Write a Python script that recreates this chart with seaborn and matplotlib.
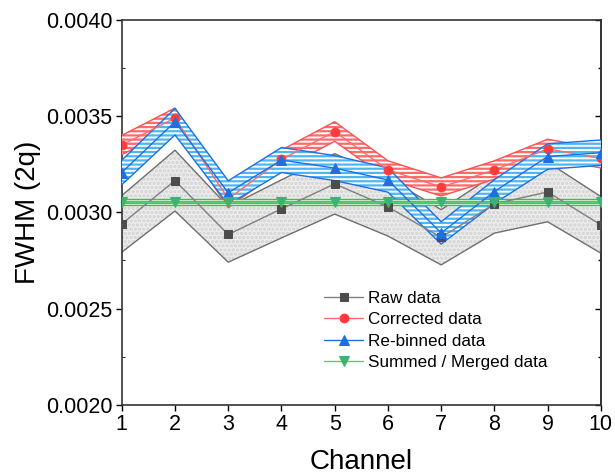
import matplotlib
matplotlib.use("Agg")
import matplotlib.pyplot as plt
import seaborn as sns
import pandas as pd

channels = [1, 2, 3, 4, 5, 6, 7, 8, 9, 10]

raw = [0.00294, 0.003165, 0.002885, 0.003018, 0.003148, 0.003028, 0.00287, 0.003044, 0.003106, 0.002935]
raw_hi = [0.003087, 0.003323, 0.003029, 0.003169, 0.003305, 0.003179, 0.003014, 0.003196, 0.003261, 0.003082]
raw_lo = [0.002793, 0.003007, 0.002741, 0.002867, 0.002991, 0.002877, 0.002727, 0.002892, 0.002951, 0.002788]

corrected = [0.00335, 0.00349, 0.00307, 0.003275, 0.00342, 0.00322, 0.003132, 0.00322, 0.00333, 0.00328]
corrected_hi = [0.0034, 0.003542, 0.003116, 0.003324, 0.003471, 0.003268, 0.003179, 0.003268, 0.00338, 0.003329]
corrected_lo = [0.0033, 0.003438, 0.003024, 0.003226, 0.003369, 0.003172, 0.003085, 0.003172, 0.00328, 0.003231]

rebinned = [0.003207, 0.003471, 0.003102, 0.003272, 0.00323, 0.003168, 0.002893, 0.003108, 0.00329, 0.00331]
rebinned_hi = [0.003271, 0.00354, 0.003164, 0.003337, 0.003295, 0.003231, 0.002951, 0.00317, 0.003356, 0.003376]
rebinned_lo = [0.003143, 0.003402, 0.00304, 0.003207, 0.003165, 0.003105, 0.002835, 0.003046, 0.003224, 0.003244]

merged = [0.003055] * 10
merged_hi = [0.00307] * 10
merged_lo = [0.00304] * 10

sns.set_style("ticks")
plt.rcParams["font.family"] = ["Liberation Sans", "DejaVu Sans"]
plt.rcParams["hatch.linewidth"] = 1.6
plt.rcParams["text.color"] = "black"
plt.rcParams["axes.labelcolor"] = "black"
plt.rcParams["xtick.color"] = "black"
plt.rcParams["ytick.color"] = "black"

fig = plt.figure(figsize=(6.15, 4.74), dpi=100)
ax = fig.add_axes([0.198, 0.146, 0.779, 0.812])

# raw band: grey with dotted pattern
ax.fill_between(channels, raw_lo, raw_hi, facecolor="#ececec", edgecolor="#d2d2d2",
                hatch="....", linewidth=0, zorder=1)
ax.plot(channels, raw_hi, color="#6e6e6e", lw=1, zorder=2)
ax.plot(channels, raw_lo, color="#6e6e6e", lw=1, zorder=2)

# corrected band: red stripes
ax.fill_between(channels, corrected_lo, corrected_hi, facecolor="white", edgecolor="#ff6a6a",
                hatch="----", linewidth=0, zorder=3)
ax.plot(channels, corrected_hi, color="#ff5050", lw=1, zorder=3)
ax.plot(channels, corrected_lo, color="#ff5050", lw=1, zorder=3)

# re-binned band: blue stripes
ax.fill_between(channels, rebinned_lo, rebinned_hi, facecolor="white", edgecolor="#4db6f5",
                hatch="----", linewidth=0, zorder=4)
ax.plot(channels, rebinned_hi, color="#1f6fe0", lw=1, zorder=4)
ax.plot(channels, rebinned_lo, color="#1f6fe0", lw=1, zorder=4)

# merged band: green
ax.fill_between(channels, merged_lo, merged_hi, facecolor="#e4f7e4", linewidth=0, zorder=5)
ax.plot(channels, merged_hi, color="#45b85a", lw=1, zorder=5)
ax.plot(channels, merged_lo, color="#45b85a", lw=1, zorder=5)
ax.plot(channels, merged, color="#22e022", lw=2.2, zorder=5)

df = pd.DataFrame({"Channel": channels, "raw": raw, "corrected": corrected,
                   "rebinned": rebinned, "merged": merged})

series = [
    ("raw", "Raw data", "#808080", "#4d4d4d", "s", 5.8),
    ("corrected", "Corrected data", "#ff6a6a", "#ff3b3b", "o", 6.3),
    ("rebinned", "Re-binned data", "#1f6fe0", "#1f6fe0", "^", 6.8),
    ("merged", "Summed / Merged data", "#5fc97a", "#3cb371", "v", 6.8),
]
for col, label, lc, mc, mk, ms in series:
    sns.lineplot(data=df, x="Channel", y=col, ax=ax, color=lc, lw=1, marker=mk,
                 markersize=ms, markerfacecolor=mc, markeredgecolor=mc,
                 label=label, zorder=6)
    ax.lines[-1].set_linestyle("none")

handles, labels = ax.get_legend_handles_labels()
for h in handles:
    h.set_linestyle("-")
ax.legend(handles, labels, loc="upper left", bbox_to_anchor=(0.39, 0.335), frameon=False,
          fontsize=12.3, handlelength=2.3, handletextpad=0.25, labelspacing=0.36)

ax.set_xlim(1, 10)
ax.set_ylim(0.002, 0.004)
ax.set_xticks(channels)
ax.set_yticks([0.002, 0.0025, 0.003, 0.0035, 0.004])
ax.set_yticks([0.00225, 0.00275, 0.00325, 0.00375], minor=True)
ax.set_yticklabels(["0.0020", "0.0025", "0.0030", "0.0035", "0.0040"])
ax.tick_params(axis="both", labelsize=15.5, direction="out", length=4.5, width=1, pad=2)
ax.tick_params(axis="y", which="minor", direction="in", length=2.5)

# right side ticks point inward, no labels
sec = ax.secondary_yaxis("right")
sec.set_yticks([0.002, 0.0025, 0.003, 0.0035, 0.004])
sec.set_yticks([0.00225, 0.00275, 0.00325, 0.00375], minor=True)
sec.tick_params(which="both", direction="in", labelright=False, length=4.5, width=1)
sec.tick_params(which="minor", length=2.5)
sec.spines["right"].set_linewidth(1.2)
sec.spines["right"].set_color("#333333")

for s in ax.spines.values():
    s.set_visible(True)
    s.set_linewidth(1.2)
    s.set_color("#333333")

ax.set_xlabel("Channel", fontsize=20, labelpad=10)
ax.set_ylabel("FWHM (2q)", fontsize=20, labelpad=4)

fig.savefig("out.png", dpi=100)
